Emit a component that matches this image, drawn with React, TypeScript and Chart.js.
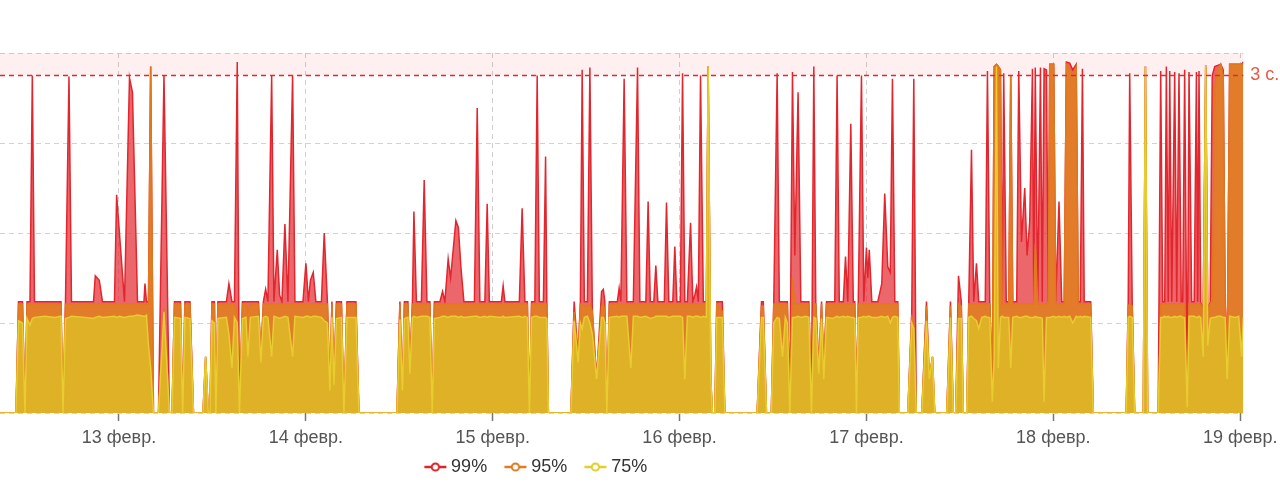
import { useEffect, useRef } from "react";
import { Chart, registerables } from "chart.js";

Chart.register(...registerables);

const FONT = '"Liberation Sans", Arial, sans-serif';

// Time in hours counted from 12 февр. 00:00
const HOURS = [
  8.72, 10.77, 11.10, 11.61, 11.93, 12.19, 12.57, 12.87, 13.15, 14.50,
  15.78, 16.55, 16.81, 17.13, 17.58, 17.90, 19.63, 20.73, 20.96, 21.47,
  21.88, 23.42, 23.70, 24.06, 24.71, 25.35, 25.73, 26.38, 27.21, 27.34,
  27.53, 27.79, 28.07, 28.43, 29.07, 29.78, 30.48, 30.81, 31.13, 31.90,
  32.18, 32.47, 33.12, 33.57, 34.79, 35.13, 35.47, 35.68, 35.94, 36.26,
  36.45, 36.71, 37.80, 38.12, 38.51, 38.83, 39.19, 39.47, 39.86, 40.31,
  40.56, 40.88, 41.91, 42.23, 42.55, 42.84, 43.13, 43.61, 43.90, 44.33,
  44.63, 44.93, 45.31, 45.70, 46.30, 46.60, 47.63, 48.01, 48.33, 48.59,
  48.95, 49.29, 50.00, 50.36, 50.77, 51.09, 51.35, 51.61, 51.93, 52.57,
  52.89, 53.28, 54.43, 54.82, 59.70, 60.08, 60.40, 60.66, 61.11, 61.36,
  61.69, 61.88, 62.20, 62.84, 63.20, 63.55, 63.93, 64.23, 64.51, 65.22,
  65.56, 65.86, 66.28, 66.59, 67.27, 67.59, 67.91, 68.30, 69.65, 70.01,
  70.35, 70.99, 71.29, 71.57, 73.11, 73.34, 73.56, 75.42, 75.78, 76.13,
  76.45, 76.71, 76.99, 77.41, 77.71, 77.99, 78.51, 78.79, 78.95, 79.15,
  82.04, 82.46, 82.97, 83.26, 83.49, 83.77, 84.16, 84.48, 84.80, 85.34,
  85.98, 86.21, 86.40, 86.66, 86.98, 88.01, 88.24, 88.46, 88.88, 89.23,
  89.74, 90.06, 90.60, 90.90, 91.67, 91.96, 92.24, 92.69, 92.95, 93.21,
  94.04, 94.32, 94.62, 95.13, 95.39, 95.65, 96.10, 96.38, 96.67, 97.00,
  97.41, 97.70, 97.96, 98.18, 98.41, 98.69, 99.05, 99.44, 99.67, 100.01,
  100.21, 100.53, 100.78, 101.49, 101.81, 105.96, 106.52, 106.75, 107.16, 107.78,
  108.10, 108.53, 108.81, 109.22, 109.58, 109.84, 110.16, 110.50, 110.80, 111.22,
  111.57, 112.21, 112.60, 112.94, 113.24, 113.49, 113.88, 114.23, 114.52, 114.87,
  115.68, 115.93, 116.23, 116.51, 117.03, 117.31, 117.60, 117.99, 118.31, 118.50,
  118.72, 118.95, 119.36, 119.66, 120.00, 120.17, 120.36, 120.69, 121.46, 121.97,
  122.35, 122.74, 123.06, 123.34, 123.64, 124.02, 124.22, 125.31, 125.82, 126.08,
  126.40, 127.11, 127.71, 128.07, 128.48, 128.77, 130.32, 130.79, 131.15, 131.47,
  131.82, 132.18, 132.43, 132.88, 133.14, 133.49, 133.78, 134.13, 134.42, 134.81,
  135.26, 135.54, 135.84, 136.16, 136.41, 136.70, 136.93, 137.21, 137.44, 137.63,
  137.96, 138.28, 138.53, 138.79, 139.30, 139.56, 139.91, 140.33, 140.63, 140.97,
  141.32, 141.49, 141.68, 142.00, 142.35, 142.58, 142.81, 143.12, 143.35, 143.54,
  144.05, 144.31, 144.73, 145.08, 145.40, 145.68, 146.11, 146.49, 146.94, 147.20,
  147.46, 147.74, 147.97, 148.80, 149.13, 153.36, 153.62, 153.81, 154.13, 154.45,
  155.55, 155.83, 156.12, 157.47, 157.79, 158.05, 158.31, 158.52, 158.76, 158.95,
  159.21, 159.59, 159.85, 160.14, 160.43, 160.62, 160.87, 161.20, 161.43, 161.77,
  162.09, 162.38, 162.54, 162.71, 162.93, 163.25, 163.57, 163.83, 164.15, 164.41,
  164.73, 165.11, 165.50, 165.82, 166.07, 166.33, 166.65, 167.42, 167.81, 168.19,
  168.40,
];

// 99th percentile, seconds
const P99 = [
  0, 0, 0.99, 0.99, 0, 0.99, 0.99, 3.0, 0.99, 0.99,
  0.99, 0.99, 0, 0.99, 2.99, 0.99, 0.99, 0.99, 1.22, 1.18,
  0.99, 0.99, 1.94, 1.6, 0.99, 2.98, 2.85, 0.99, 0.99, 1.15,
  0.99, 0.99, 3.08, 0, 0, 3.0, 0, 0, 0.99, 0.99,
  0, 0.99, 0.99, 0, 0, 0.5, 0, 0, 0.99, 0.99,
  0, 0.99, 0.99, 1.15, 0.99, 0.99, 3.12, 0, 0.99, 0.99,
  0.99, 0.99, 0.99, 0.5, 0.99, 1.1, 0.99, 3.0, 0.99, 1.45,
  1.05, 0.99, 1.68, 0.99, 3.0, 0.99, 0.99, 1.33, 0.99, 1.18,
  1.25, 0.99, 0.99, 1.6, 0.99, 0.2, 0.99, 0.3, 0.99, 0.99,
  0, 0.99, 0.99, 0, 0, 0.99, 0.2, 0.99, 0.99, 0.4,
  0.99, 1.79, 0.99, 0.99, 2.07, 0.99, 0.99, 0, 0.99, 0.99,
  1.08, 0.99, 1.37, 1.2, 1.71, 1.65, 1.3, 0.99, 0.99, 2.71,
  0.99, 0.99, 1.86, 0.99, 0.99, 1.13, 0.99, 0.99, 1.82, 0.99,
  0.99, 0, 0.99, 0.99, 3.0, 0.99, 0.99, 2.28, 0.99, 0,
  0, 0.99, 0.5, 0.99, 3.05, 0.99, 0.99, 3.07, 0.9, 0.3,
  1.08, 1.1, 0.99, 0, 0.99, 0.99, 1.11, 0.99, 2.97, 0.99,
  0.99, 0.99, 3.07, 0.99, 0.99, 1.88, 0.99, 0.99, 1.31, 0.99,
  0.99, 1.87, 0.99, 0.99, 1.48, 0.99, 0.99, 3.02, 0.99, 0.99,
  1.69, 0.99, 1.05, 1.12, 0.99, 3.0, 0.99, 0.99, 3.08, 0.3,
  0, 0, 0.99, 0.99, 0, 0, 0.99, 0.99, 0, 0,
  0.99, 3.02, 0.99, 0.99, 0.99, 0.99, 0.1, 3.03, 1.4, 2.85,
  0.99, 0.99, 0.99, 0.1, 3.08, 0.99, 0.4, 0.99, 0.4, 0.99,
  0.99, 0.99, 3.0, 0.99, 0.99, 1.39, 0.99, 2.57, 0.99, 0.99,
  0.05, 0.99, 3.0, 0.99, 1.47, 1.2, 1.45, 0.99, 0.99, 1.15,
  1.95, 1.3, 1.25, 2.97, 0.99, 0.99, 0, 0, 0.9, 2.97,
  0, 0, 0.99, 0.3, 0.5, 0, 0, 0.99, 0, 0,
  1.22, 0.99, 0, 0, 0.99, 2.34, 0.99, 1.33, 0.99, 0.99,
  0.99, 3.04, 0.99, 0.2, 3.08, 3.1, 3.08, 3.05, 0.99, 3.02,
  0.99, 0.99, 3.0, 0.99, 0.99, 3.04, 1.52, 2.0, 1.4, 1.7,
  3.06, 0.99, 3.07, 0.99, 3.07, 0.99, 3.06, 3.05, 0.99, 3.1,
  3.1, 0.99, 1.88, 0.99, 0.99, 3.12, 3.11, 3.05, 3.1, 0.99,
  0.99, 3.06, 0.99, 0.99, 0, 0, 0.99, 3.02, 0.99, 0,
  0, 3.08, 0, 0, 3.04, 0.99, 0.99, 3.08, 0.99, 3.04,
  0.99, 3.03, 0.99, 3.02, 0.99, 0.99, 3.05, 0.1, 3.03, 0.99,
  0.99, 3.03, 0.99, 3.04, 0.99, 0.9, 3.09, 0.9, 0.99, 3.0,
  3.08, 3.09, 3.1, 3.05, 0.99, 0.5, 3.1, 3.1, 3.1, 3.1,
  3.12,
];

// 95th percentile, seconds
const P95 = [
  0, 0, 0.97, 0.97, 0, 0.97, 0.97, 0.97, 0.97, 0.97,
  0.97, 0.97, 0, 0.97, 0.97, 0.97, 0.97, 0.97, 0.97, 0.97,
  0.97, 0.97, 0.97, 0.97, 0.97, 0.97, 0.97, 0.97, 0.97, 0.97,
  0.97, 0.97, 3.08, 0, 0, 0.94, 0, 0, 0.97, 0.97,
  0, 0.97, 0.97, 0, 0, 0.5, 0, 0, 0.97, 0.97,
  0, 0.97, 0.97, 0.97, 0.97, 0.97, 0.9, 0, 0.97, 0.97,
  0.9, 0.97, 0.97, 0.5, 0.97, 0.97, 0.97, 0.97, 0.97, 0.97,
  0.97, 0.97, 0.97, 0.97, 0.97, 0.97, 0.97, 0.97, 0.97, 0.97,
  0.97, 0.97, 0.97, 0.97, 0.97, 0.2, 0.97, 0.3, 0.97, 0.97,
  0, 0.97, 0.97, 0, 0, 0.97, 0.2, 0.97, 0.97, 0.4,
  0.97, 0.97, 0.97, 0.97, 0.97, 0.97, 0.97, 0, 0.97, 0.97,
  0.97, 0.97, 0.97, 0.97, 0.97, 0.97, 0.97, 0.97, 0.97, 0.97,
  0.97, 0.97, 0.97, 0.97, 0.97, 0.97, 0.97, 0.97, 0.97, 0.97,
  0.97, 0, 0.97, 0.97, 0.97, 0.97, 0.97, 0.97, 0.97, 0,
  0, 0.9, 0.5, 0.97, 0.97, 0.95, 0.95, 0.97, 0.9, 0.3,
  0.95, 0.97, 0.9, 0, 0.97, 0.97, 0.97, 0.97, 0.97, 0.97,
  0.97, 0.97, 0.97, 0.97, 0.97, 0.97, 0.97, 0.97, 0.97, 0.97,
  0.97, 0.97, 0.97, 0.97, 0.97, 0.97, 0.97, 0.97, 0.97, 0.97,
  0.97, 0.97, 0.97, 0.97, 0.97, 0.97, 0.97, 0.97, 3.08, 0.3,
  0, 0, 0.97, 0.9, 0, 0, 0.95, 0.95, 0, 0,
  0.97, 0.97, 0.97, 0.97, 0.97, 0.97, 0.1, 1.2, 0.97, 0.97,
  0.97, 0.97, 0.97, 0.1, 0.97, 0.97, 0.4, 0.97, 0.4, 0.97,
  0.97, 0.97, 0.97, 0.97, 0.97, 0.97, 0.97, 0.97, 0.97, 0.97,
  0.05, 0.97, 0.97, 0.97, 0.97, 0.97, 0.97, 0.97, 0.97, 0.97,
  0.97, 0.97, 0.97, 0.97, 0.97, 0.97, 0, 0, 0.85, 0.8,
  0, 0, 0.95, 0.3, 0.5, 0, 0, 0.95, 0, 0,
  0.97, 0.95, 0, 0, 0.97, 0.97, 0.97, 0.97, 0.97, 0.97,
  0.97, 0.97, 0.97, 0.2, 3.08, 3.1, 3.08, 3.05, 0.97, 0.97,
  0.97, 0.97, 3.0, 0.97, 0.97, 0.97, 0.97, 0.97, 0.97, 0.97,
  0.97, 0.97, 1.5, 0.97, 0.97, 0.97, 0.97, 0.97, 0.97, 3.1,
  3.1, 0.97, 0.97, 0.97, 0.97, 3.1, 3.05, 3.0, 3.08, 0.97,
  0.97, 0.97, 0.97, 0.97, 0, 0, 0.95, 0.97, 0.95, 0,
  0, 3.08, 0, 0, 0.97, 0.97, 0.97, 0.97, 0.97, 0.97,
  0.97, 0.97, 0.97, 0.97, 0.97, 0.97, 0.97, 0.1, 0.97, 0.97,
  0.97, 0.97, 0.97, 0.97, 0.97, 0.9, 3.09, 0.9, 0.97, 1.0,
  2.9, 3.05, 3.1, 3.0, 0.97, 0.5, 3.1, 3.1, 3.1, 3.1,
  3.1,
];

// 75th percentile, seconds
const P75 = [
  0, 0, 0.82, 0.80, 0, 0.84, 0.78, 0.84, 0.85, 0.86,
  0.85, 0.86, 0, 0.84, 0.85, 0.86, 0.85, 0.84, 0.85, 0.86,
  0.85, 0.86, 0.85, 0.86, 0.85, 0.86, 0.86, 0.87, 0.86, 0.86,
  0.87, 0.6, 0.4, 0, 0, 0.9, 0, 0, 0.85, 0.84,
  0, 0.85, 0.84, 0, 0, 0.5, 0, 0, 0.82, 0.80,
  0, 0.84, 0.85, 0.7, 0.4, 0.85, 0.8, 0, 0.84, 0.85,
  0.5, 0.85, 0.86, 0.45, 0.85, 0.86, 0.85, 0.5, 0.86, 0.85,
  0.84, 0.85, 0.86, 0.85, 0.5, 0.86, 0.85, 0.86, 0.86, 0.85,
  0.86, 0.86, 0.85, 0.82, 0.8, 0.2, 0.85, 0.25, 0.84, 0.85,
  0, 0.85, 0.85, 0, 0, 0.83, 0.2, 0.84, 0.85, 0.35,
  0.85, 0.86, 0.85, 0.86, 0.86, 0.86, 0.85, 0, 0.84, 0.85,
  0.86, 0.86, 0.85, 0.86, 0.86, 0.85, 0.86, 0.85, 0.86, 0.86,
  0.85, 0.86, 0.85, 0.86, 0.85, 0.86, 0.85, 0.86, 0.85, 0.86,
  0.85, 0, 0.85, 0.86, 0.86, 0.85, 0.85, 0.85, 0.84, 0,
  0, 0.82, 0.45, 0.8, 0.75, 0.85, 0.86, 0.8, 0.7, 0.3,
  0.85, 0.85, 0.8, 0, 0.85, 0.86, 0.85, 0.86, 0.86, 0.86,
  0.4, 0.86, 0.86, 0.85, 0.86, 0.85, 0.84, 0.85, 0.86, 0.86,
  0.86, 0.86, 0.85, 0.86, 0.86, 0.86, 0.86, 0.85, 0.3, 0.86,
  0.86, 0.85, 0.86, 0.86, 0.86, 0.85, 0.86, 0.85, 3.08, 0.3,
  0, 0, 0.85, 0.85, 0, 0, 0.85, 0.85, 0, 0,
  0.8, 0.85, 0.84, 0.5, 0.85, 0.8, 0, 0.85, 0.85, 0.86,
  0.85, 0.86, 0.85, 0, 0.85, 0.84, 0.35, 0.84, 0.3, 0.85,
  0.84, 0.85, 0.86, 0.85, 0.86, 0.85, 0.86, 0.85, 0.85, 0.84,
  0, 0.85, 0.85, 0.86, 0.85, 0.86, 0.86, 0.85, 0.85, 0.86,
  0.85, 0.86, 0.8, 0.85, 0.86, 0.85, 0, 0, 0.8, 0.75,
  0, 0, 0.82, 0.3, 0.5, 0, 0, 0.85, 0, 0,
  0.84, 0.84, 0, 0, 0.85, 0.86, 0.84, 0.82, 0.75, 0.85,
  0.86, 0.85, 0.85, 0.1, 0.5, 3.08, 0.4, 0.85, 0.86, 0.85,
  0.85, 0.85, 0.4, 0.85, 0.86, 0.85, 0.85, 0.86, 0.86, 0.85,
  0.85, 0.85, 0.86, 0.85, 0.85, 0.84, 0.1, 0.85, 0.85, 0.85,
  0.86, 0.85, 0.86, 0.85, 0.86, 0.85, 0.86, 0.8, 0.86, 0.85,
  0.86, 0.85, 0.86, 0.85, 0, 0, 0.85, 0.86, 0.85, 0,
  0, 3.08, 0, 0, 0.85, 0.85, 0.86, 0.85, 0.86, 0.85,
  0.85, 0.86, 0.85, 0.86, 0.86, 0.85, 0.85, 0.05, 0.86, 0.86,
  0.86, 0.85, 0.85, 0.86, 0.85, 0.5, 3.09, 0.6, 0.84, 0.85,
  0.85, 0.86, 0.86, 0.85, 0.85, 0.3, 0.86, 0.85, 0.86, 0.5,
  0.85,
];

const SERIES_LABELS = ["99%", "95%", "75%"];
const TICK_HOURS = [24, 48, 72, 96, 120, 144, 168];
const TICK_LABELS = ["13 февр.", "14 февр.", "15 февр.", "16 февр.", "17 февр.", "18 февр.", "19 февр."];
const X_MIN = 8.72;
const X_MAX = 168.4;
const Y_MAX = 3.2;
const Y_STEP = 0.8;
const THRESHOLD = 3;
const THRESHOLD_LABEL = "3 с.";

// legend marker: short line with a hollow circle, drawn shifted to the right inside its image
function makeMarker(color: string): HTMLCanvasElement {
  const c = document.createElement("canvas");
  c.width = 36;
  c.height = 12;
  const g = c.getContext("2d")!;
  g.strokeStyle = color;
  g.lineWidth = 2.5;
  g.beginPath();
  g.moveTo(13.3, 6);
  g.lineTo(35.3, 6);
  g.stroke();
  g.beginPath();
  g.arc(24.3, 6, 3.6, 0, Math.PI * 2);
  g.fillStyle = "#ffffff";
  g.fill();
  g.lineWidth = 2;
  g.stroke();
  return c;
}

const thresholdPlugin = {
  id: "threshold",
  beforeDatasetsDraw(chart: any) {
    const { ctx, chartArea, scales } = chart;
    const yTop = scales.y.getPixelForValue(Y_MAX);
    const yThr = scales.y.getPixelForValue(THRESHOLD);
    ctx.save();
    ctx.fillStyle = "rgba(240,60,60,0.08)";
    ctx.fillRect(chartArea.left, yTop, chartArea.right - chartArea.left, yThr - yTop);
    ctx.restore();
  },
  afterDatasetsDraw(chart: any) {
    const { ctx, chartArea, scales } = chart;
    const yThr = scales.y.getPixelForValue(THRESHOLD);
    ctx.save();
    ctx.strokeStyle = "#e0282e";
    ctx.lineWidth = 1.5;
    ctx.setLineDash([5, 4]);
    ctx.beginPath();
    ctx.moveTo(chartArea.left, yThr);
    ctx.lineTo(chartArea.right, yThr);
    ctx.stroke();
    ctx.setLineDash([]);
    ctx.fillStyle = "#e25b45";
    ctx.font = `18px ${FONT}`;
    ctx.textBaseline = "middle";
    ctx.textAlign = "left";
    ctx.fillText(THRESHOLD_LABEL, chartArea.right + 7, yThr);
    ctx.restore();
  },
};

export default function App() {
  const ref = useRef<HTMLCanvasElement | null>(null);

  useEffect(() => {
    if (!ref.current) return;
    const pts = (vals: number[]) => HOURS.map((h, i) => ({ x: h, y: vals[i] }));
    const markers: Record<number, HTMLCanvasElement> = {
      0: makeMarker("#e2cd2a"),
      1: makeMarker("#e07b22"),
      2: makeMarker("#d9262c"),
    };
    const chart = new Chart(ref.current, {
      type: "line",
      data: {
        datasets: [
          {
            label: SERIES_LABELS[2],
            data: pts(P75),
            borderColor: "#e8cc30",
            backgroundColor: "#dfb127",
            fill: "origin",
            borderWidth: 1.5,
            pointRadius: 0,
            tension: 0,
          },
          {
            label: SERIES_LABELS[1],
            data: pts(P95),
            borderColor: "#e2781c",
            backgroundColor: "#e27c2a",
            fill: "origin",
            borderWidth: 1.5,
            pointRadius: 0,
            tension: 0,
          },
          {
            label: SERIES_LABELS[0],
            data: pts(P99),
            borderColor: "#e3262e",
            backgroundColor: "rgba(228,45,50,0.72)",
            fill: "origin",
            borderWidth: 1.5,
            pointRadius: 0,
            tension: 0,
          },
        ],
      },
      options: {
        animation: false,
        responsive: true,
        maintainAspectRatio: false,
        layout: { padding: { left: 0, right: 40.7, top: 53, bottom: 8 } },
        plugins: {
          legend: {
            position: "bottom",
            reverse: true,
            labels: {
              usePointStyle: true,
              pointStyleWidth: 26,
              boxHeight: 12,
              padding: 9,
              color: "#333333",
              font: { size: 18, family: FONT },
              generateLabels: (c: any) => {
                const items = (Chart.defaults.plugins.legend.labels as any).generateLabels(c);
                return items.map((it: any) => ({ ...it, pointStyle: markers[it.datasetIndex] }));
              },
            },
          },
          tooltip: { enabled: false },
        },
        scales: {
          x: {
            type: "linear",
            min: X_MIN,
            max: X_MAX,
            afterBuildTicks: (axis: any) => {
              axis.ticks = TICK_HOURS.map((v) => ({ value: v }));
            },
            afterFit: (axis: any) => {
              axis.height = 36;
            },
            ticks: {
              autoSkip: false,
              maxRotation: 0,
              padding: 6,
              color: "#555555",
              font: { size: 18, family: FONT },
              callback: (v: any) => {
                const i = TICK_HOURS.indexOf(Number(v));
                return i >= 0 ? TICK_LABELS[i] : "";
              },
            },
            grid: {
              color: "#cfcfcf",
              lineWidth: 1,
              drawTicks: true,
              tickLength: 8,
              tickColor: "#777777",
              tickWidth: 1.5,
              tickBorderDash: [],
            },
            border: { display: false, dash: [5, 4] },
          },
          y: {
            min: 0,
            max: Y_MAX,
            afterFit: (axis: any) => {
              axis.width = 180;
            },
            ticks: { display: false, stepSize: Y_STEP },
            grid: { color: "#d2d2d2", lineWidth: 1, drawTicks: false },
            border: { display: false, dash: [5, 4] },
          },
        },
      },
      plugins: [thresholdPlugin],
    } as any);
    return () => chart.destroy();
  }, []);

  return (
    <div style={{ position: "absolute", left: 0, top: 0, width: 1280, height: 494, overflow: "hidden", background: "#ffffff" }}>
      <div style={{ position: "absolute", left: -180, top: 0, width: 1464, height: 494 }}>
        <canvas ref={ref} />
      </div>
    </div>
  );
}
